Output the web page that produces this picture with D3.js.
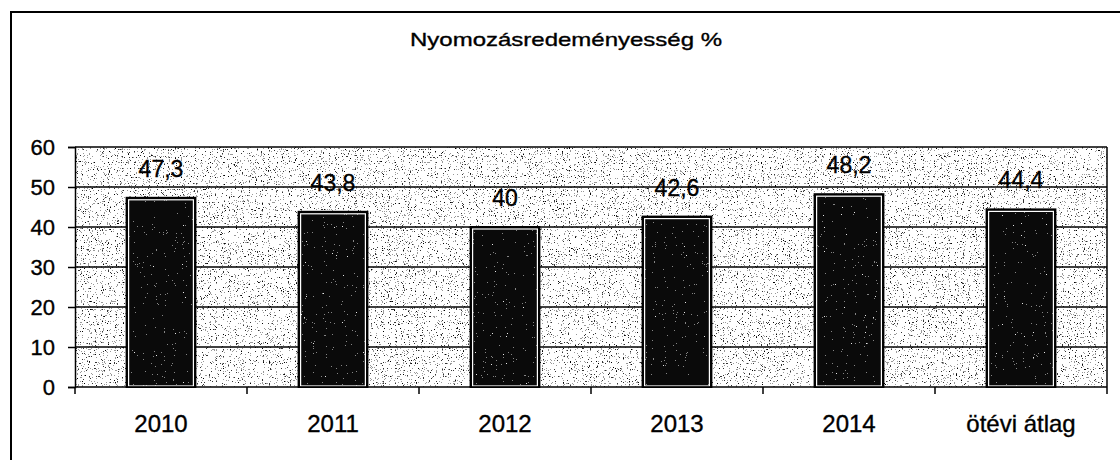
<!DOCTYPE html>
<html>
<head>
<meta charset="utf-8">
<script src="https://cdn.jsdelivr.net/npm/d3@7"></script>
<style>
  body { margin: 0; background: #fff; }
  svg { display: block; font-family: "Liberation Sans", Arial, sans-serif; }
  text { stroke: #000; stroke-width: 0.35px; }
</style>
</head>
<body>
<script>
const categories = ["2010", "2011", "2012", "2013", "2014", "ötévi átlag"];
const values = [47.3, 43.8, 40, 42.6, 48.2, 44.4];
const labels = ["47,3", "43,8", "40", "42,6", "48,2", "44,4"];
const yTicks = [0, 10, 20, 30, 40, 50, 60];
const title = "Nyomozásredeményesség %";

const width = 1120;
const height = 460;
const margin = { top: 147, right: 13, bottom: 73, left: 75 };

const svg = d3.select("body").append("svg")
  .attr("width", width)
  .attr("height", height);

const defs = svg.append("defs");

// grey speckle for the plot background
const f1 = defs.append("filter").attr("id", "speckle")
  .attr("x", 0).attr("y", 0).attr("width", "100%").attr("height", "100%");
f1.append("feTurbulence").attr("type", "fractalNoise")
  .attr("baseFrequency", 0.85).attr("numOctaves", 3).attr("seed", 4);
f1.append("feColorMatrix").attr("type", "matrix")
  .attr("values", "0 0 0 0 0  0 0 0 0 0  0 0 0 0 0  1.5 0 0 0 -0.27");
f1.append("feComponentTransfer").append("feFuncA")
  .attr("type", "discrete").attr("tableValues", "0 0 0 0 0 0 0 0.4 0.8 1");

// white speckle for the dark bars
const f2 = defs.append("filter").attr("id", "speckleW")
  .attr("x", 0).attr("y", 0).attr("width", "100%").attr("height", "100%");
f2.append("feTurbulence").attr("type", "fractalNoise")
  .attr("baseFrequency", 0.9).attr("numOctaves", 2).attr("seed", 9);
f2.append("feColorMatrix").attr("type", "matrix")
  .attr("values", "0 0 0 0 1  0 0 0 0 1  0 0 0 0 1  1.4 0 0 0 -0.25");
f2.append("feComponentTransfer").append("feFuncA")
  .attr("type", "discrete").attr("tableValues", "0 0 0 0 0 0 0 0 0.5 0.9");

const x = d3.scaleBand()
  .domain(categories)
  .range([margin.left, width - margin.right])
  .paddingInner(0.6)
  .paddingOuter(0.3);

const xOuter = d3.scaleBand()
  .domain(categories)
  .range([margin.left, width - margin.right]);

const y = d3.scaleLinear()
  .domain([0, 60])
  .range([height - margin.bottom, margin.top]);

// chart frame
svg.append("rect")
  .attr("x", 11).attr("y", 12)
  .attr("width", width + 10).attr("height", height + 10)
  .attr("fill", "none").attr("stroke", "#000").attr("stroke-width", 2);

// title
svg.append("text")
  .attr("x", 566).attr("y", 46)
  .attr("text-anchor", "middle")
  .attr("font-size", 19)
  .attr("textLength", 312)
  .attr("lengthAdjust", "spacingAndGlyphs")
  .text(title);

// plot background
svg.append("rect")
  .attr("x", margin.left).attr("y", margin.top)
  .attr("width", width - margin.left - margin.right)
  .attr("height", height - margin.top - margin.bottom)
  .attr("fill", "#fff");
svg.append("rect")
  .attr("x", margin.left).attr("y", margin.top)
  .attr("width", width - margin.left - margin.right)
  .attr("height", height - margin.top - margin.bottom)
  .attr("filter", "url(#speckle)");

// gridlines
svg.append("g")
  .selectAll("line")
  .data(yTicks.filter(d => d > 0))
  .join("line")
  .attr("x1", margin.left).attr("x2", width - margin.right)
  .attr("y1", d => y(d)).attr("y2", d => y(d))
  .attr("stroke", "#000").attr("stroke-width", 1.5);

// right border
svg.append("line")
  .attr("x1", width - margin.right).attr("x2", width - margin.right)
  .attr("y1", margin.top).attr("y2", y(0))
  .attr("stroke", "#000").attr("stroke-width", 1.5);

// bars
const bars = svg.append("g")
  .selectAll("g")
  .data(values)
  .join("g");

bars.append("rect")
  .attr("x", (d, i) => x(categories[i]))
  .attr("y", d => y(d))
  .attr("width", x.bandwidth())
  .attr("height", d => y(0) - y(d))
  .attr("fill", "#0a0a0a")
  .attr("stroke", "#000")
  .attr("stroke-width", 2);

bars.append("rect")
  .attr("x", (d, i) => x(categories[i]) + 3)
  .attr("y", d => y(d) + 3)
  .attr("width", x.bandwidth() - 6)
  .attr("height", d => y(0) - y(d) - 4)
  .attr("filter", "url(#speckleW)");

bars.append("rect")
  .attr("x", (d, i) => x(categories[i]) + 2)
  .attr("y", d => y(d) + 2)
  .attr("width", x.bandwidth() - 4)
  .attr("height", d => y(0) - y(d) - 3)
  .attr("fill", "none")
  .attr("stroke", "#fff")
  .attr("stroke-width", 1.2);

// value labels
svg.append("g")
  .selectAll("text")
  .data(values)
  .join("text")
  .attr("x", (d, i) => x(categories[i]) + x.bandwidth() / 2)
  .attr("y", d => y(d) - 21)
  .attr("text-anchor", "middle")
  .attr("font-size", 23)
  .text((d, i) => labels[i]);

// y axis
const gy = svg.append("g")
  .attr("transform", `translate(${margin.left},0)`)
  .call(d3.axisLeft(y).tickValues(yTicks).tickSize(7).tickPadding(13));
gy.select(".domain").attr("stroke-width", 1.5);
gy.selectAll(".tick line").attr("stroke-width", 1.5);
gy.selectAll("text").attr("font-size", 22).attr("fill", "#000")
  .attr("font-family", "Liberation Sans, Arial, sans-serif");

// x axis: category separators
const gx = svg.append("g")
  .attr("transform", `translate(0,${y(0)})`);
gx.append("line")
  .attr("x1", margin.left).attr("x2", width - margin.right)
  .attr("stroke", "#000").attr("stroke-width", 1.5);
gx.selectAll(".sep")
  .data(categories.concat(["end"]))
  .join("line")
  .attr("class", "sep")
  .attr("x1", (d, i) => i < categories.length ? xOuter(d) : width - margin.right)
  .attr("x2", (d, i) => i < categories.length ? xOuter(d) : width - margin.right)
  .attr("y1", 0).attr("y2", 7)
  .attr("stroke", "#000").attr("stroke-width", 1.5);
gx.selectAll("text")
  .data(categories)
  .join("text")
  .attr("x", d => xOuter(d) + xOuter.bandwidth() / 2)
  .attr("y", 45)
  .attr("text-anchor", "middle")
  .attr("font-size", 24)
  .text(d => d);
</script>
</body>
</html>
